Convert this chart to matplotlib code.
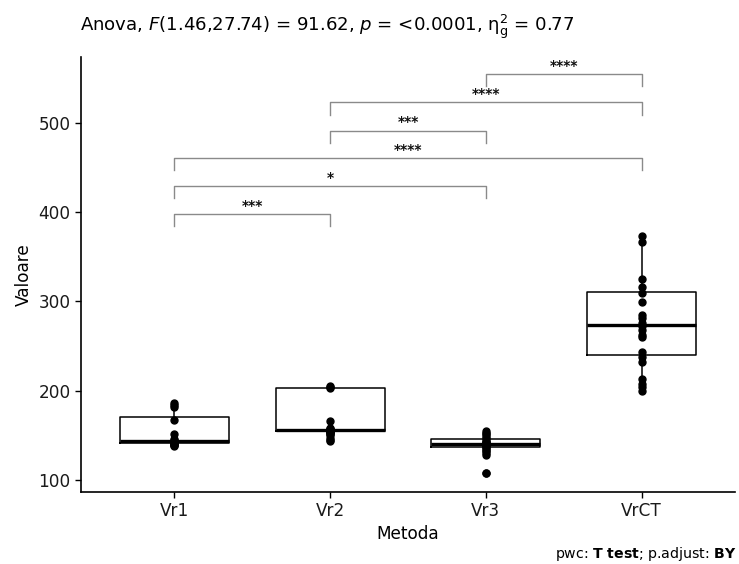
import matplotlib

matplotlib.use("Agg")
import matplotlib.pyplot as plt

plt.rcParams["font.family"] = ["DejaVu Sans"]
plt.rcParams["mathtext.fontset"] = "dejavusans"

groups = ["Vr1", "Vr2", "Vr3", "VrCT"]

vr1 = [186, 184, 182, 167, 151, 146, 145, 144, 143, 143, 142, 142, 142, 141, 141, 140, 140, 139, 139, 138]
vr2 = [205, 204, 203, 166, 158, 157, 157, 156, 156, 155, 155, 155, 154, 154, 153, 152, 150, 147, 145, 144]
vr3 = [155, 153, 151, 149, 147, 145, 143, 142, 141, 140, 140, 139, 138, 137, 136, 134, 132, 130, 128, 108]
vrct = [373, 367, 325, 316, 309, 299, 285, 281, 276, 272, 268, 262, 260, 243, 238, 232, 213, 208, 204, 200]
points = [vr1, vr2, vr3, vrct]

# box statistics
q1 = [141, 155, 136.6, 240]
med = [143.5, 156.5, 140, 273.5]
q3 = [171, 203, 146, 311]
whislo = [138, 144, 128, 200]
whishi = [186, 205, 155, 373]
fliers = [[], [], [108], []]

# pairwise comparisons: (group a, group b, label, bar height)
pairs = [
  (0, 1, "***", 398),
  (0, 2, "*", 429.5),
  (0, 3, "****", 460.5),
  (1, 2, "***", 491.5),
  (1, 3, "****", 523),
  (2, 3, "****", 554.5),
]
tip = 13.5

fig = plt.figure(figsize=(7.39, 5.64), dpi=100)
ax = fig.add_axes([0.1096, 0.1277, 0.885, 0.7713])

stats = []
for i in range(len(groups)):
  stats.append({"q1": q1[i], "med": med[i], "q3": q3[i], "whislo": whislo[i],
                "whishi": whishi[i], "fliers": fliers[i]})
pos = list(range(1, len(groups) + 1))
ax.bxp(stats, positions=pos, widths=0.7, showfliers=False,
       boxprops=dict(color="black", linewidth=1.1),
       whiskerprops=dict(color="black", linewidth=1.1),
       capprops=dict(linewidth=0),
       medianprops=dict(color="black", linewidth=2.4))

for i, vals in enumerate(points):
  ax.plot([pos[i]] * len(vals), vals, "o", color="black", markersize=5, zorder=3)
  if fliers[i]:
    ax.plot([pos[i]] * len(fliers[i]), fliers[i], "o", color="black", markersize=5, zorder=3)

for a, b, lab, h in pairs:
  xa, xb = pos[a], pos[b]
  ax.plot([xa, xa, xb, xb], [h - tip, h, h, h - tip], color="#8a8a8a", linewidth=1.0)
  ax.text((xa + xb) / 2, h + 1.5, lab, ha="center", va="bottom", fontsize=10,
          color="#111111", fontweight="bold")

ax.set_xlim(0.4, 4.6)
ax.set_ylim(86.5, 574)
ax.set_yticks([100, 200, 300, 400, 500])
ax.set_xticks(pos)
ax.set_xticklabels(groups)
ax.tick_params(labelsize=12.2, length=4, width=1.0, colors="black")
for lab in ax.get_xticklabels() + ax.get_yticklabels():
  lab.set_color("#1a1a1a")
ax.spines["top"].set_visible(False)
ax.spines["right"].set_visible(False)
ax.spines["left"].set_linewidth(1.2)
ax.spines["bottom"].set_linewidth(1.2)
ax.set_xlabel("Metoda", fontsize=12.2, labelpad=3)
ax.set_ylabel("Valoare", fontsize=12.2, labelpad=4)

fig.text(0.108, 1 - 31 / 564,
         r"Anova, $F$(1.46,27.74) = 91.62, $p$ = <0.0001, $\mathregular{\eta^2_g}$ = 0.77",
         ha="left", va="baseline", fontsize=13.1)
fig.text(0.997, 1 - 558 / 564, r"pwc: $\mathbf{T\ test}$; p.adjust: $\mathbf{BY}$",
         ha="right", va="baseline", fontsize=10.2)

fig.savefig("out.png", dpi=100)
